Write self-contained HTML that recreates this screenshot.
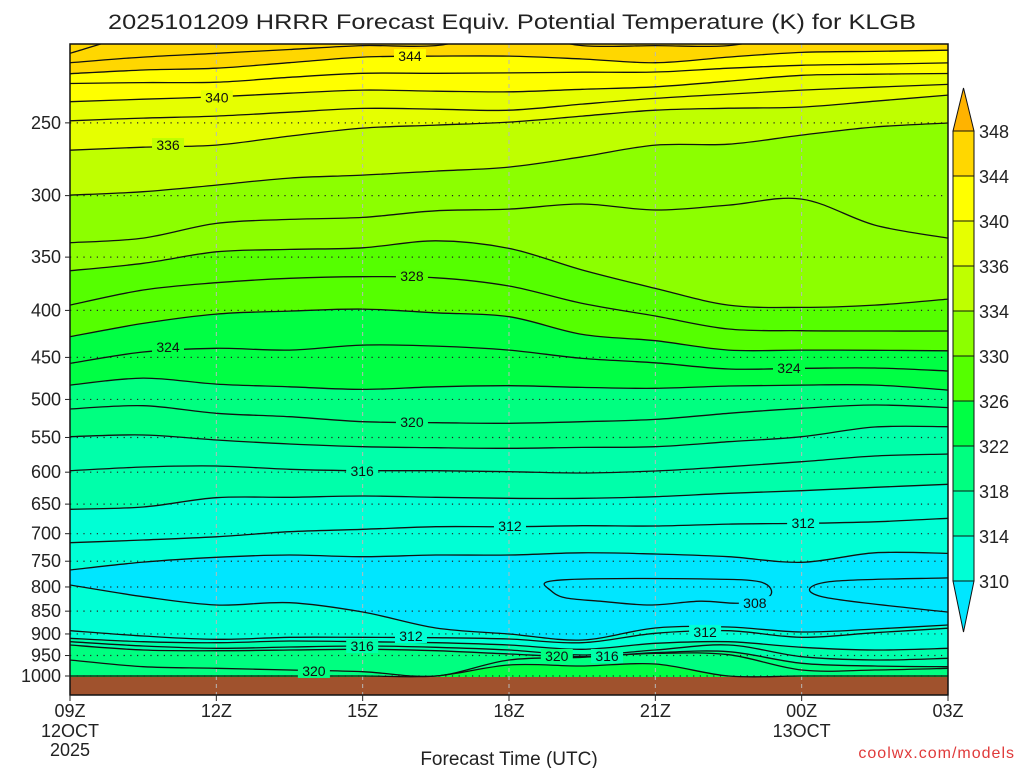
<!DOCTYPE html>
<html><head><meta charset="utf-8"><style>
html,body{margin:0;padding:0;background:#fff;}
svg{display:block;font-family:"Liberation Sans",sans-serif;}
</style></head><body>
<svg id="chart" width="1024" height="768" viewBox="0 0 1024 768" xmlns="http://www.w3.org/2000/svg">
<text x="512" y="29" font-size="21" text-anchor="middle" fill="#222" textLength="808" lengthAdjust="spacingAndGlyphs">2025101209 HRRR Forecast Equiv. Potential Temperature (K) for KLGB</text>
<defs><clipPath id="pc"><rect x="70" y="44" width="878" height="651"/></clipPath></defs>
<g id="fills" clip-path="url(#pc)"></g>
<g id="grid"></g>
<g id="lines" clip-path="url(#pc)"></g>
<g id="labels"></g>
<g id="axes"></g>
<g id="cbar"></g>
<text x="509" y="765" font-size="19" text-anchor="middle" fill="#222">Forecast Time (UTC)</text>
<text x="1015" y="758" font-size="16" text-anchor="end" fill="#e03a3a" letter-spacing="1">coolwx.com/models</text>
</svg>
<script>
// forecast hours at each sample column (every 1.5 h)
const hours = [0,1.5,3,4.5,6,7.5,9,10.5,12,13.5,15,16.5,18];
// contour levels (K) and their pressure (hPa) at each column — upper part
const upperLevels = [348,346,344,342,340,338,336,334,332,330,328,326,324,322,320,318,316,314,312,310];
const p348 = [210,200,200,200,200,200,200,200,200,200,200,200,200];
const p346 = [215,212,210,208,206,206,200,206,206,206,200,200,200];
const p344 = [221,219,218,215,212,211.5,211.5,213,215,212,209.5,209,208.4];
const p342 = [226.5,226,225.8,223,220.8,220.8,220.6,220.2,220.1,218,216.4,215.8,215.1];
const p340 = [237.1,235.6,234.2,232.1,230.3,230.9,231.3,229.8,228.4,225.2,221.9,221.3,220.9];
const p338 = [248.7,247,245.8,243.4,241.1,241.6,242.2,238.5,235.1,232.6,230.3,228.6,227];
const p336 = [267.7,265.7,264.3,258.4,253.3,251.4,249.5,245.8,242.2,241,240.3,236.8,233.2];
const p334 = [299.6,297.1,292.2,287.1,285,282.1,279.3,272.2,264.3,263.7,257.8,252.6,250.1];
const p332 = [337.6,333.7,321.6,318.4,316.8,311.6,310.3,306.4,311,307.2,302.6,323,333.7];
const p330 = [362.1,355.5,345.4,343.3,341.9,336,342.4,361.5,378.5,394.7,397,394.7,388.8];
const p328 = [394.7,380.1,373.2,369.1,367.6,368.6,376.3,393,405.7,419.1,420.9,421.2,421.2];
const p326 = [427.3,413.2,403.7,400.7,398.7,402.4,406.4,424.8,431.6,441.8,441.8,442.1,442.6];
const p324 = [456.8,444,439.9,441.8,436.3,437.4,441.8,451.1,456.1,463.3,462.5,462.1,465.6];
const p322 = [482.3,474,481.2,484.4,487.6,484.4,483.1,485.1,486.3,483.5,482.3,482.3,488.4];
const p320 = [512.1,507.9,517.7,522.1,528.7,530,530.8,528.7,525.6,517.7,511.2,507,510.4];
const p318 = [549,546.6,553.5,559.1,562.9,564.3,565.2,563.8,562.9,555.9,549,535.8,535.4];
const p316 = [597.8,592.3,590.8,595.7,597.8,597.8,599.3,601.2,598.2,591.8,584.5,576.2,573.3];
const p314 = [658.5,654.7,639.6,639,636.9,639,640.6,640.6,638,632.6,628.5,623.2,618.5];
const p312 = [716,711.2,705.4,696.6,692.4,687.9,687.9,686.2,686.7,683.3,682.1,679.4,673.6];
const p310 = [766.7,751.6,742.7,738.5,741.6,738.5,738.5,734.3,736.6,741.6,752.1,734.3,735.4];
// lower part (theta increasing toward the surface)
const lowerLevels = [310,312,314,316,318,320,322];
const q310 = [796.1,819.7,837,832.2,851.8,886.6,900.1,913.8,886.6,884.4,895.6,888.9,880];
const q312 = [892.7,904.6,912.2,907.6,907.6,908.5,911.5,920,898.5,892.7,907.6,897.1,887.2];
const q314 = [909.8,917.7,920,916.1,917.7,920,925.3,935.3,921.4,917.7,930.6,937,932.9];
const q316 = [917.7,927.6,932.9,929.9,927.6,930.6,937,948.7,937,925.3,952.8,960.7,956.6];
const q318 = [925.3,937,938.6,937,935.3,938.6,946.3,952.8,943.2,940.9,968.7,975.2,976.9];
const q320 = [960.7,976.9,980.9,985.1,989.3,1000,960.7,954.2,945,948,985.1,985.1,980.9];
const q322 = [1000,1000,1000,1000,1000,1000,972.8,975.2,970.4,1000,1000,1000,1000];
// 308 K closed contours as [hour, hPa]
const c308a = [[9.78,790],[10.66,784],[12.92,784],[14.15,790],[14.35,818],[13.74,833],[12.92,829],[11.89,837],[10.87,829],[10.15,822],[9.84,806]];
const c308b = [[18,782],[15.54,790],[15.42,820],[18,852]];
// contour labels [text, hour, hPa]
const labelText = ["344","340","336","328","324","324","320","316","312","312","308","312","316","320","320","316","312"];
const labelHour = [6.97,3.01,2.01,7.01,2.01,14.74,7.01,5.99,9.02,15.03,14.04,6.99,5.99,5.0,9.98,11.01,13.02];
const labelP = [211.5,234.5,264.3,367,438.5,462,529,598,686.7,681.7,833,904.6,927.6,987.5,951,951,895.6];
// axis ticks
const pTicks = [250,300,350,400,450,500,550,600,650,700,750,800,850,900,950,1000];
const tHours = [0,3,6,9,12,15,18];
const tLab1 = ["09Z","12Z","15Z","18Z","21Z","00Z","03Z"];
const tLab2 = ["12OCT","","","","","13OCT",""];
const tLab3 = ["2025","","","","","",""];
// colorbar labels
const cbLabels = ["348","344","340","336","334","330","326","322","318","314","310"];

const NS="http://www.w3.org/2000/svg";
const X0=70,X1=948,Y0=44,Y1=695;
function xOf(h){return X0+(X1-X0)*h/18;}
function yOf(p){return 676-399*Math.log(1000/p);}
function mk(tag,attrs,parent){const e=document.createElementNS(NS,tag);for(const k in attrs)e.setAttribute(k,attrs[k]);parent.appendChild(e);return e;}
function smooth(pts){let d="M"+pts[0][0].toFixed(1)+","+pts[0][1].toFixed(1);
 for(let i=0;i<pts.length-1;i++){const p0=pts[Math.max(0,i-1)],p1=pts[i],p2=pts[i+1],p3=pts[Math.min(pts.length-1,i+2)];
  const c1=[p1[0]+(p2[0]-p0[0])/6,p1[1]+(p2[1]-p0[1])/6],c2=[p2[0]-(p3[0]-p1[0])/6,p2[1]-(p3[1]-p1[1])/6];
  d+=" C"+c1[0].toFixed(1)+","+c1[1].toFixed(1)+" "+c2[0].toFixed(1)+","+c2[1].toFixed(1)+" "+p2[0].toFixed(1)+","+p2[1].toFixed(1);}
 return d;}
function smoothClosed(pts){const n=pts.length;let d="M"+pts[0][0].toFixed(1)+","+pts[0][1].toFixed(1);
 for(let i=0;i<n;i++){const p0=pts[(i-1+n)%n],p1=pts[i],p2=pts[(i+1)%n],p3=pts[(i+2)%n];
  const c1=[p1[0]+(p2[0]-p0[0])/6,p1[1]+(p2[1]-p0[1])/6],c2=[p2[0]-(p3[0]-p1[0])/6,p2[1]-(p3[1]-p1[1])/6];
  d+=" C"+c1[0].toFixed(1)+","+c1[1].toFixed(1)+" "+c2[0].toFixed(1)+","+c2[1].toFixed(1)+" "+p2[0].toFixed(1)+","+p2[1].toFixed(1);}
 return d+"Z";}
function pts(arr){return arr.map((p,i)=>[xOf(hours[i]),yOf(p)]);}

const fills=document.getElementById('fills'),lines=document.getElementById('lines'),grid=document.getElementById('grid'),labs=document.getElementById('labels'),axes=document.getElementById('axes'),cb=document.getElementById('cbar');
const upper=[p348,p346,p344,p342,p340,p338,p336,p334,p332,p330,p328,p326,p324,p322,p320,p318,p316,p314,p312,p310];
const lower=[q310,q312,q314,q316,q318,q320,q322];
function bandColor(t){if(t>=344)return"#ffd700";if(t>=340)return"#ffff00";if(t>=336)return"#e6ff00";if(t>=334)return"#bfff00";if(t>=330)return"#8cff00";if(t>=326)return"#55ff00";if(t>=322)return"#00ff44";if(t>=318)return"#00ff80";if(t>=314)return"#00ffaa";if(t>=310)return"#00ffd5";return"#00e6ff";}
let bg=mk('rect',{x:X0,y:Y0,width:X1-X0,height:Y1-Y0,fill:bandColor(346)},fills);


const tail=" L"+(X1+5)+","+(Y1+5)+" L"+(X0-5)+","+(Y1+5)+" Z";
upper.forEach((arr,i)=>{const lv=upperLevels[i];const f=mk('path',{d:smooth(pts(arr))+tail,fill:bandColor(lv-1)},fills);
 
 });
lower.forEach((arr,i)=>{const lv=lowerLevels[i];const f=mk('path',{d:smooth(pts(arr))+tail,fill:bandColor(lv+0.5)},fills);
 
 });
// ground
const g=mk('rect',{x:X0,y:yOf(1000)+1,width:X1-X0,height:Y1-yOf(1000)-1,fill:"#a0522d"},fills);


// grid
pTicks.forEach(p=>{const l=mk('line',{x1:X0,x2:X1,y1:yOf(p),y2:yOf(p),stroke:"#222","stroke-width":1.2,"stroke-dasharray":"1.2 5.5"},grid);
 
 });
tHours.forEach((h,i)=>{if(i===0||i===6)return;const l=mk('line',{x1:xOf(h),x2:xOf(h),y1:Y0,y2:Y1,stroke:"#b8b8b8","stroke-width":1,"stroke-dasharray":"4 4"},grid);
 
 });
// contour lines
upper.forEach((arr,i)=>{const l=mk('path',{d:smooth(pts(arr)),fill:"none",stroke:"#111","stroke-width":1.3},lines);
 
 });
lower.forEach((arr,i)=>{const l=mk('path',{d:smooth(pts(arr)),fill:"none",stroke:"#111","stroke-width":1.3},lines);
 
 });
let c=mk('path',{d:smoothClosed(c308a.map(q=>[xOf(q[0]),yOf(q[1])])),fill:"none",stroke:"#111","stroke-width":1.3},lines);


c=mk('path',{d:smooth(c308b.map(q=>[xOf(q[0]),yOf(q[1])])),fill:"none",stroke:"#111","stroke-width":1.3},lines);


// labels
labelText.forEach((t,i)=>{const x=xOf(labelHour[i]),y=yOf(labelP[i]);const v=+t;
 const r=mk('rect',{x:x-16,y:y-7,width:32,height:14,fill:bandColor(v-0.5)},labs);
 
 
 const tx=mk('text',{x:x,y:y+5,"font-size":14,"text-anchor":"middle",fill:"#111"},labs);tx.textContent=t;
 
 });
// frame
let fr=mk('rect',{x:X0,y:Y0,width:X1-X0,height:Y1-Y0,fill:"none",stroke:"#111","stroke-width":1.5},axes);


pTicks.forEach(p=>{const y=yOf(p);const tk=mk('line',{x1:X0-5,x2:X0,y1:y,y2:y,stroke:"#222"},axes);
 
 
 const t=mk('text',{x:X0-9,y:y+6,"font-size":18,"text-anchor":"end",fill:"#222"},axes);t.textContent=p;
 
 });
tHours.forEach((h,i)=>{const x=xOf(h);const tk=mk('line',{x1:x,x2:x,y1:Y1,y2:Y1+6,stroke:"#222"},axes);
 
 
 [[tLab1[i],717],[tLab2[i],737],[tLab3[i],756]].forEach(q=>{if(!q[0])return;const t=mk('text',{x:x,y:q[1],"font-size":18,"text-anchor":"middle",fill:"#222"},axes);t.textContent=q[0];
  
  });});
// colorbar
const cbTop=131,cbStep=45,cbX=953,cbW=21;
const cbFill=["#ffd700","#ffff00","#e6ff00","#bfff00","#8cff00","#55ff00","#00ff44","#00ff80","#00ffaa","#00ffd5"];
let tri=mk('polygon',{points:`${cbX},${cbTop} ${cbX+cbW},${cbTop} ${cbX+cbW/2},${cbTop-43}`,fill:"#ffb300",stroke:"#111","stroke-width":1},cb);


cbFill.forEach((col,i)=>{const r=mk('rect',{x:cbX,y:cbTop+i*cbStep,width:cbW,height:cbStep,fill:col,stroke:"#111","stroke-width":1},cb);
 
 });
const yb=cbTop+10*cbStep;
tri=mk('polygon',{points:`${cbX},${yb} ${cbX+cbW},${yb} ${cbX+cbW/2},${yb+51}`,fill:"#00e6ff",stroke:"#111","stroke-width":1},cb);


cbLabels.forEach((t,i)=>{const tx=mk('text',{x:979,y:cbTop+i*cbStep+7,"font-size":18,fill:"#222"},cb);tx.textContent=t;
 
 });
</script>
</body></html>
